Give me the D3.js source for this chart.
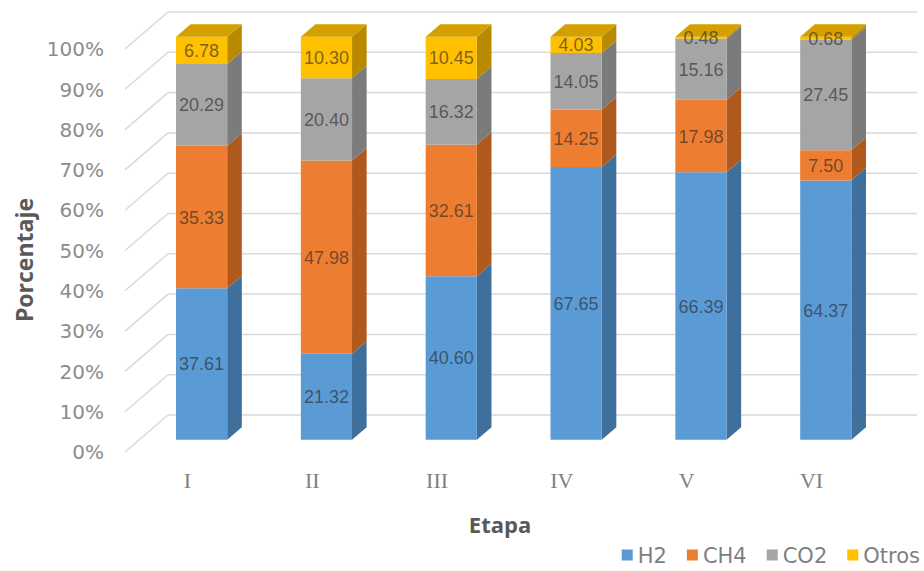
<!DOCTYPE html>
<html>
<head>
<meta charset="utf-8">
<script src="https://cdn.jsdelivr.net/npm/d3@7"></script>
<style>
  html, body { margin: 0; padding: 0; background: #fff; }
  svg { display: block; }
</style>
</head>
<body>
<svg id="chart" width="924" height="571"></svg>
<script>
// Gas composition per stage (percent)
const etapas = ["I", "II", "III", "IV", "V", "VI"];
const gases = ["H2", "CH4", "CO2", "Otros"];
const h2 = [37.61, 21.32, 40.60, 67.65, 66.39, 64.37];
const ch4 = [35.33, 47.98, 32.61, 14.25, 17.98, 7.50];
const co2 = [20.29, 20.40, 16.32, 14.05, 15.16, 27.45];
const otros = [6.78, 10.30, 10.45, 4.03, 0.48, 0.68];
const yTicks = [0, 0.1, 0.2, 0.3, 0.4, 0.5, 0.6, 0.7, 0.8, 0.9, 1];

const frontColor = { H2: "#5b9bd5", CH4: "#ed7d31", CO2: "#a5a5a5", Otros: "#ffc000" };
const sideColor = { H2: "#3f6f9c", CH4: "#b0591d", CO2: "#7b7b7b", Otros: "#b98a00" };
const topColor = { H2: "#4a86c0", CH4: "#cf6a25", CO2: "#8f8f8f", Otros: "#d4a000" };

const rows = etapas.map((e, i) => ({ etapa: e, H2: h2[i], CH4: ch4[i], CO2: co2[i], Otros: otros[i] }));
const series = d3.stack().keys(gases).offset(d3.stackOffsetExpand)(rows);

const svg = d3.select("#chart");

// Oblique 3D: front plane scales plus a depth vector toward the back wall
const x = d3.scaleBand().domain(etapas).range([125, 874]).paddingInner(0.59).paddingOuter(0.295);
const y = d3.scaleLinear().domain([0, 1]).range([452, 49]);
const depth = { dx: 43, dy: -37 };
const z0 = 0.33, z1 = 0.67;
const proj = (px, v, z) => [px + depth.dx * z, y(v) + depth.dy * z];
const poly = pts => pts.map(p => p.join(",")).join(" ");

// Gridlines: side-wall diagonals and back-wall horizontals
const grid = svg.append("g").attr("stroke", "#d9d9d9").attr("stroke-width", 1.5).attr("fill", "none");
yTicks.forEach(t => {
  const a = proj(125, t, 0), b = proj(125, t, 1), c = proj(874, t, 1);
  grid.append("line").attr("x1", a[0]).attr("y1", a[1]).attr("x2", b[0]).attr("y2", b[1]);
  grid.append("line").attr("x1", b[0]).attr("y1", b[1]).attr("x2", c[0]).attr("y2", c[1]);
});

// Y tick labels
svg.append("g").selectAll("text").data(yTicks).join("text")
  .attr("x", 104).attr("y", d => y(d))
  .attr("dy", "0.36em")
  .attr("text-anchor", "end")
  .attr("font-family", "DejaVu Sans, sans-serif")
  .attr("font-size", 20)
  .attr("fill", "#8c8c8c")
  .text(d => d3.format(".0%")(d));

// Category labels
svg.append("g").selectAll("text").data(etapas).join("text")
  .attr("x", d => x(d) + x.bandwidth() / 2)
  .attr("y", 488)
  .attr("text-anchor", "middle")
  .attr("font-family", "Liberation Serif, serif")
  .attr("font-size", 22)
  .attr("fill", "#808080")
  .text(d => d);

// Bars
const bars = svg.append("g");
series.forEach((s, si) => {
  const key = s.key;
  const isTop = si === series.length - 1;
  s.forEach((d, i) => {
    const e = etapas[i];
    const bx0 = x(e), bx1 = x(e) + x.bandwidth();
    const v0 = d[0], v1 = d[1];
    bars.append("polygon")
      .attr("points", poly([proj(bx1, v0, z0), proj(bx1, v0, z1), proj(bx1, v1, z1), proj(bx1, v1, z0)]))
      .attr("fill", sideColor[key]);
    bars.append("polygon")
      .attr("points", poly([proj(bx0, v0, z0), proj(bx1, v0, z0), proj(bx1, v1, z0), proj(bx0, v1, z0)]))
      .attr("fill", frontColor[key]);
    if (isTop) {
      bars.append("polygon")
        .attr("points", poly([proj(bx0, v1, z0), proj(bx1, v1, z0), proj(bx1, v1, z1), proj(bx0, v1, z1)]))
        .attr("fill", topColor[key]);
    }
  });
});

// Data labels on the front faces
const labels = svg.append("g")
  .attr("font-family", "Liberation Sans, Arial, sans-serif")
  .attr("font-size", 18)
  .attr("text-anchor", "middle")
  .attr("fill", "#262626")
  .attr("fill-opacity", 0.62);
series.forEach(s => {
  s.forEach((d, i) => {
    const e = etapas[i];
    const c = proj(x(e) + x.bandwidth() / 2, (d[0] + d[1]) / 2, z0);
    labels.append("text")
      .attr("x", c[0]).attr("y", c[1]).attr("dy", "0.36em")
      .text(d3.format(".2f")(d.data[s.key]));
  });
});

// Axis titles
svg.append("text")
  .attr("x", 500).attr("y", 533)
  .attr("text-anchor", "middle")
  .attr("font-family", "Open Sans, sans-serif")
  .attr("font-weight", 700)
  .attr("font-size", 22)
  .attr("fill", "#595959")
  .text("Etapa");

svg.append("text")
  .attr("transform", "translate(33,260) rotate(-90)")
  .attr("text-anchor", "middle")
  .attr("font-family", "Open Sans, sans-serif")
  .attr("font-weight", 700)
  .attr("font-size", 23)
  .attr("fill", "#595959")
  .text("Porcentaje");

// Legend, laid out right-aligned along the bottom
const legend = svg.append("g");
const items = gases.map(g => {
  const gEl = legend.append("g");
  gEl.append("rect").attr("width", 11).attr("height", 11).attr("y", -5.5).attr("fill", frontColor[g]);
  const t = gEl.append("text").attr("x", 16).attr("dy", "0.36em")
    .attr("font-family", "DejaVu Sans, sans-serif")
    .attr("font-size", 21)
    .attr("fill", "#7f7f7f")
    .text(g);
  return { gEl, w: 16 + t.node().getComputedTextLength() };
});
const gap = 20;
const total = d3.sum(items, d => d.w) + gap * (items.length - 1);
let lx = 920 - total;
items.forEach(it => {
  it.gEl.attr("transform", `translate(${lx},555)`);
  lx += it.w + gap;
});
</script>
</body>
</html>
